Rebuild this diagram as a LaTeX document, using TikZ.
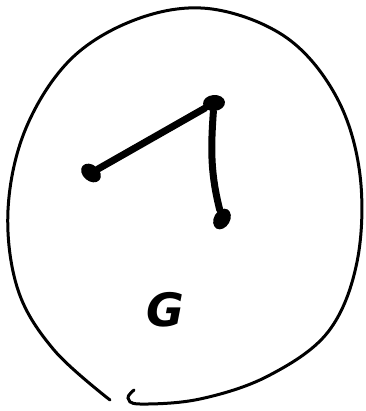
\documentclass[tikz,border=0pt]{standalone}
\usepackage{fontspec}
\setmainfont{DejaVu Sans}
\usetikzlibrary{shapes.geometric}
\begin{document}
\begin{tikzpicture}[x=1pt,y=-1pt,
  vert/.style={ellipse,fill=black,minimum width=22pt,minimum height=16pt,inner sep=0pt},
  edgeline/.style={line width=7pt,line cap=round},
  blob/.style={line width=3pt,line cap=round}]
\useasboundingbox (0,0) rectangle (365,411);
\node[vert,rotate=-40] (a) at (91,173) {};
\node[vert,rotate=5] (b) at (214,103) {};
\node[vert,rotate=60] (c) at (222,219) {};
\draw[edgeline] (a) -- (b);
\draw[edgeline] (b) to[out=-95,in=95] (c);
\node[font=\fontsize{46}{46}\selectfont\bfseries\itshape] (g) at (165,310) {G};
\draw[blob] plot[smooth,tension=0.6] coordinates {(134,390) (128,398) (140,404) (200,399) (268,376) (328,332) (357,262) (360,175) (337,98) (287,38) (212,9) (140,18) (72,58) (26,128) (8,210) (18,290) (54,350) (110,400)};
\end{tikzpicture}
\end{document}
